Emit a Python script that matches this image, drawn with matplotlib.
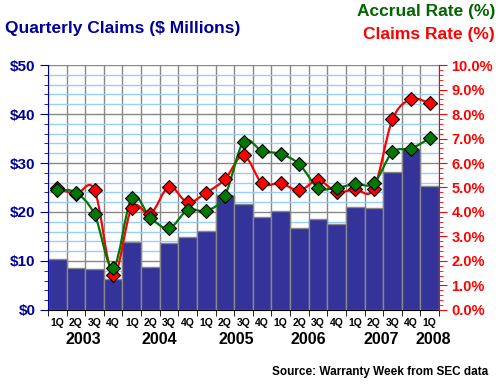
import numpy as np
import matplotlib
matplotlib.use('Agg')
import matplotlib.pyplot as plt
from matplotlib.path import Path
from matplotlib.patches import PathPatch
from matplotlib.ticker import MultipleLocator, FixedLocator

# Data (1Q 2003 .. 1Q 2008)
quarters = ['1Q', '2Q', '3Q', '4Q'] * 5 + ['1Q']
years = ['2003', '2004', '2005', '2006', '2007', '2008']
claims = [10.3, 8.5, 8.3, 6.3, 13.8, 8.8, 13.6, 14.8, 16.1, 23.4, 21.6,
          18.9, 20.1, 16.7, 18.6, 17.5, 21.0, 20.8, 28.1, 32.9, 25.4]
accrual_rate = [4.90, 4.79, 3.90, 1.70, 4.59, 3.77, 3.33, 4.08, 4.05, 4.67, 6.86,
                6.49, 6.37, 5.95, 4.99, 4.99, 5.14, 5.17, 6.44, 6.59, 7.01]
claims_rate = [4.99, 4.73, 4.90, 1.41, 4.18, 3.92, 5.03, 4.39, 4.79, 5.33, 6.31,
               5.17, 5.17, 4.88, 5.29, 4.83, 4.92, 4.95, 7.78, 8.60, 8.45]

NAVY = '#000099'
BAR = '#333399'
GREEN = '#007700'
RED = '#ff0000'
plt.rcParams['font.family'] = ['Liberation Sans', 'DejaVu Sans']


def smooth_path(x, y, t=1 / 6):
    # Catmull-Rom style bezier through the points (like a "smoothed line")
    x = np.asarray(x, float)
    y = np.asarray(y, float)
    verts = [(x[0], y[0])]
    codes = [Path.MOVETO]
    n = len(x)
    for i in range(n - 1):
        i0 = max(i - 1, 0)
        i3 = min(i + 2, n - 1)
        c1 = (x[i] + (x[i + 1] - x[i0]) * t, y[i] + (y[i + 1] - y[i0]) * t)
        c2 = (x[i + 1] - (x[i3] - x[i]) * t, y[i + 1] - (y[i3] - y[i]) * t)
        verts += [c1, c2, (x[i + 1], y[i + 1])]
        codes += [Path.CURVE4] * 3
    return Path(verts, codes)


fig = plt.figure(figsize=(5, 3.85), dpi=100)
ax = fig.add_axes([0.096, 0.195, 0.782, 0.636])
xs = np.arange(len(claims))

ax.bar(xs, claims, width=1.0, color=BAR, edgecolor='#888888', linewidth=1, zorder=2)
ax.set_xlim(-0.5, len(claims) - 0.5)
ax.set_ylim(0, 50)
ax.set_axisbelow(True)

ax.yaxis.set_minor_locator(MultipleLocator(2))
ax.set_yticks(range(0, 51, 10))
ax.set_yticklabels(['$%d' % v for v in range(0, 51, 10)], color=NAVY,
                   fontsize=11, fontweight='bold')
ax.grid(which='minor', axis='y', color='#99ccff', linewidth=1)
ax.grid(which='major', axis='y', color='#888888', linewidth=1)

ax.set_xticks(xs)
ax.set_xticklabels(quarters, fontsize=7.5, fontweight='bold')
ax.xaxis.set_minor_locator(FixedLocator(np.arange(-0.5, len(claims), 1)))
ax.tick_params(axis='x', which='major', length=0, pad=6)
ax.tick_params(axis='x', which='minor', length=4, color='black')
ax.grid(which='minor', axis='x', color='#888888', linewidth=1)
ax.tick_params(axis='y', which='both', color=NAVY, direction='out')
ax.tick_params(axis='y', which='major', length=6, pad=3)
ax.tick_params(axis='y', which='minor', length=3)

for s in ['top', 'right']:
    ax.spines[s].set_visible(False)
ax.spines['left'].set_color(NAVY)
ax.spines['bottom'].set_color('black')

# year labels under each group of quarters
year_pos = [1.4, 5.5, 9.6, 13.5, 17.4, 20.2]
for yr, p in zip(years, year_pos):
    ax.text(p, -0.12, yr, transform=ax.get_xaxis_transform(), ha='center',
            va='center', fontsize=11.5, fontweight='bold')

ax2 = ax.twinx()
ax2.set_ylim(0, 10)
ax2.yaxis.set_minor_locator(MultipleLocator(0.2))
ax2.set_yticks(np.arange(0, 10.01, 1))
ax2.set_yticklabels(['%.1f%%' % v for v in np.arange(0, 10.01, 1)], color=RED,
                    fontsize=10.5, fontweight='bold')
ax2.tick_params(axis='y', which='both', color=RED, direction='out')
ax2.tick_params(axis='y', which='major', length=6, pad=3)
ax2.tick_params(axis='y', which='minor', length=3)
for s in ['top', 'left', 'bottom']:
    ax2.spines[s].set_visible(False)
ax2.spines['right'].set_color(RED)

for vals, col in [(claims_rate, RED), (accrual_rate, GREEN)]:
    ax2.add_patch(PathPatch(smooth_path(xs, vals), facecolor='none',
                            edgecolor=col, linewidth=1.6, zorder=3))
    ax2.plot(xs, vals, linestyle='none', marker='D', markersize=7,
             markerfacecolor=col, markeredgecolor='black', markeredgewidth=0.8,
             zorder=4)

fig.text(0.01, 0.925, 'Quarterly Claims ($ Millions)', color=NAVY,
         fontsize=12.5, fontweight='bold', va='center')
fig.text(0.99, 0.971, 'Accrual Rate (%)', color='#006600', ha='right',
         fontsize=12.5, fontweight='bold', va='center')
fig.text(0.99, 0.911, 'Claims Rate (%)', color=RED, ha='right',
         fontsize=12.5, fontweight='bold', va='center')
fig.text(0.976, 0.034, 'Source: Warranty Week from SEC data', ha='right',
         fontsize=8.5, fontweight='bold', va='center')

fig.savefig('out.png', dpi=100)
